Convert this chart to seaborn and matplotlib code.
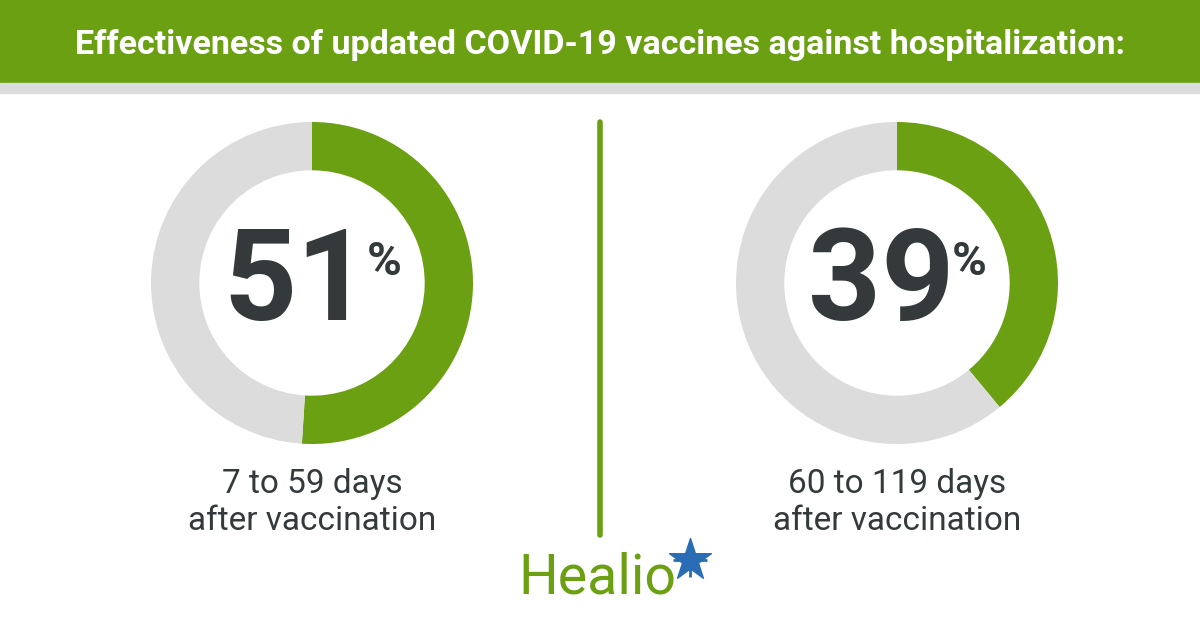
import matplotlib
matplotlib.use("Agg")
import matplotlib.pyplot as plt
import seaborn as sns

sns.set_theme(style="white")
plt.rcParams['font.family'] = ['Roboto', 'DejaVu Sans']

title = "Effectiveness of updated COVID-19 vaccines against hospitalization:"
values = [51, 39]
labels = ["7 to 59 days\nafter vaccination", "60 to 119 days\nafter vaccination"]
centers_x = [312, 897]

GREEN = "#6aa011"
GRAY = "#dcdcdc"
DARK = "#343a3b"
W, H = 1200, 630

fig = plt.figure(figsize=(12, 6.3), dpi=100)
bg = fig.add_axes([0, 0, 1, 1])
bg.set_xlim(0, W)
bg.set_ylim(H, 0)
bg.axis("off")
bg.add_patch(plt.Rectangle((0, 0), W, 83, color=GREEN))
bg.add_patch(plt.Rectangle((0, 83), W, 10, color=GRAY))
bg.text(W / 2, 45, title, color="white", fontsize=24.5, fontweight="bold",
        ha="center", va="center")
bg.plot([600, 600], [122, 535], color=GREEN, lw=4)

r = 161
for cx, v, lab in zip(centers_x, values, labels):
    ax = fig.add_axes([(cx - r) / W, 1 - (283 + r) / H, 2 * r / W, 2 * r / H])
    ax.pie([v, 100 - v], colors=[GREEN, GRAY], startangle=90, counterclock=False,
           wedgeprops=dict(width=0.3, linewidth=0))
    ax.set_xlim(-1, 1)
    ax.set_ylim(-1, 1)
    ax.set_aspect("equal")
    ax.axis("off")
    bg.text(cx - 16, 285, f"{v}", color=DARK, fontsize=92, fontweight="bold",
            ha="center", va="center")
    bg.text(cx + 72, 262, "%", color=DARK, fontsize=34, fontweight="bold",
            ha="center", va="center")
    bg.text(cx, 502, lab, color=DARK, fontsize=24, ha="center", va="center",
            linespacing=1.2)

bg.text(597, 578, "Healio", color=GREEN, fontsize=40, ha="center", va="center")
bg.scatter([690], [560], marker="*", s=1000, color="#2a6db5", zorder=5)
bg.scatter([690], [560], marker="+", s=600, color="#2a6db5", linewidths=2, zorder=5)

fig.savefig("out.png", dpi=100)
